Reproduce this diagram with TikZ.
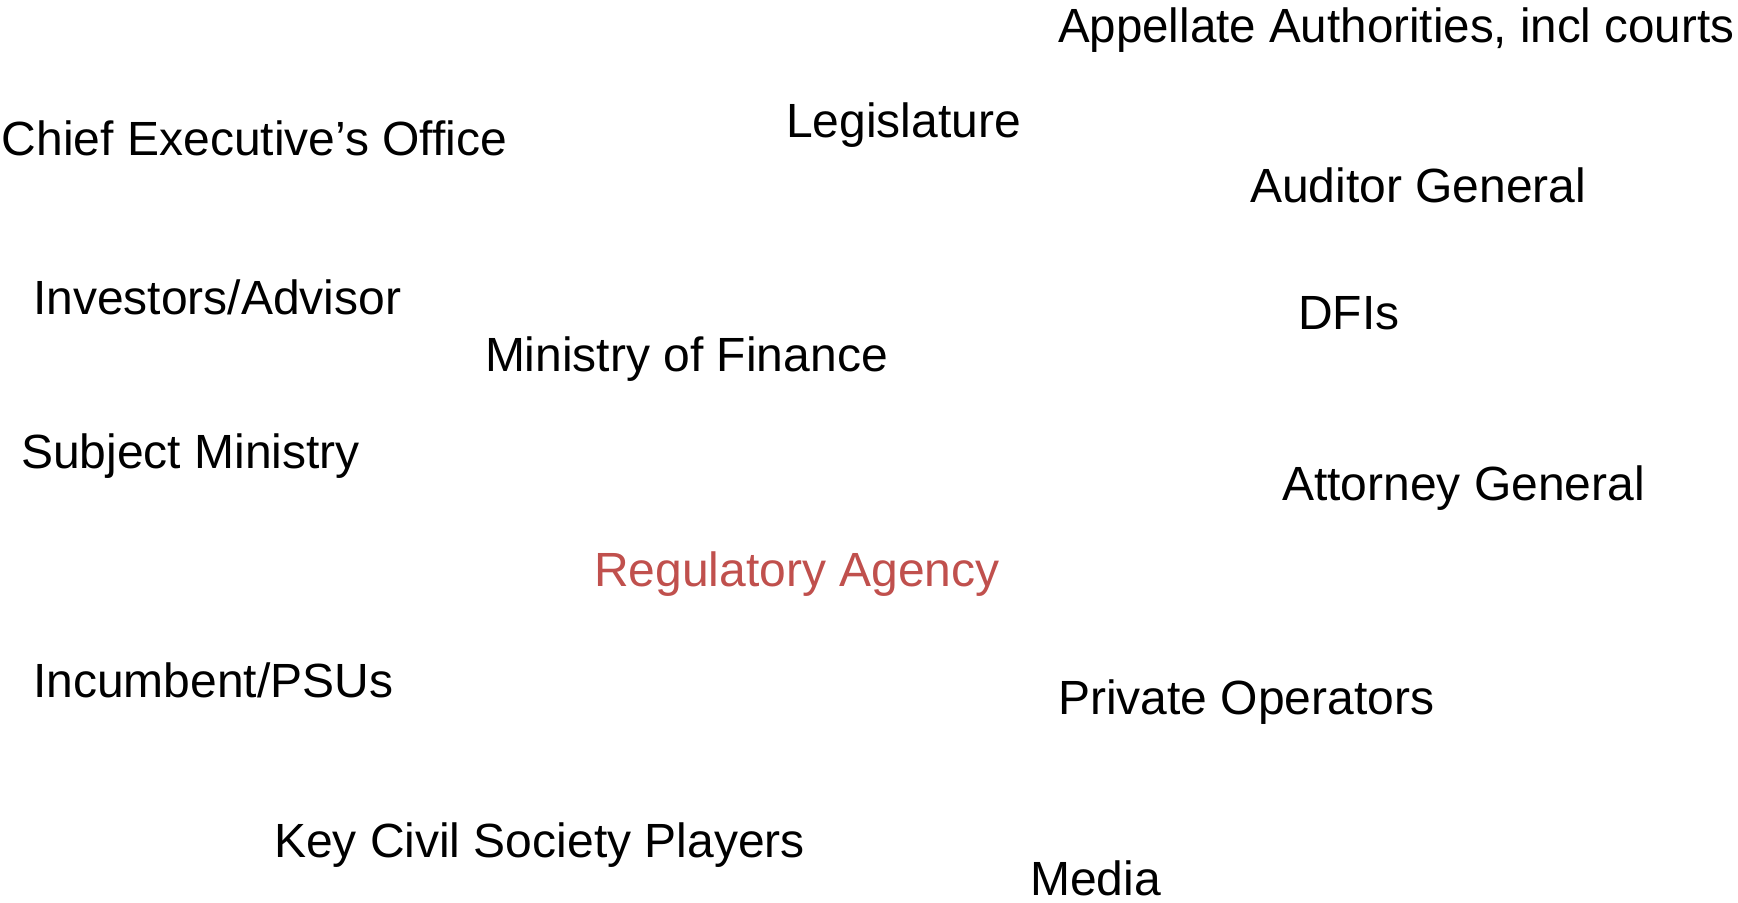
\documentclass[tikz,border=0pt]{standalone}
\usepackage{fontspec}
\setmainfont{Liberation Sans}
\definecolor{agencyred}{HTML}{C0504D}
\tikzset{
  lbl/.style={anchor=base west, inner sep=0pt, outer sep=0pt, font=\fontsize{24}{28}\selectfont, text=black},
  agency/.style={lbl, text=agencyred}
}
\begin{document}
\begin{tikzpicture}[x=0.5pt,y=-0.5pt]
\useasboundingbox (0,0) rectangle (1738,902);
\node[lbl] (appellate) at (1058,42) {\scalebox{0.99}[1]{Appellate Authorities, incl courts}};
\node[lbl] (chief) at (2,155) {Chief Executive’s Office};
\node[lbl] (legis) at (786,137) {Legislature};
\node[lbl] (auditor) at (1250,202) {Auditor General};
\node[lbl] (investors) at (33,314) {Investors/Advisor};
\node[lbl] (dfis) at (1298,329) {DFIs};
\node[lbl] (mof) at (485,371) {Ministry of Finance};
\node[lbl] (subject) at (21,468) {Subject Ministry};
\node[lbl] (attorney) at (1282,500) {Attorney General};
\node[agency] (agency) at (594,586) {Regulatory Agency};
\node[lbl] (incumbent) at (33,697) {Incumbent/PSUs};
\node[lbl] (private) at (1058,714) {Private Operators};
\node[lbl] (civil) at (274,857) {Key Civil Society Players};
\node[lbl] (media) at (1030,895) {Media};
\end{tikzpicture}
\end{document}
